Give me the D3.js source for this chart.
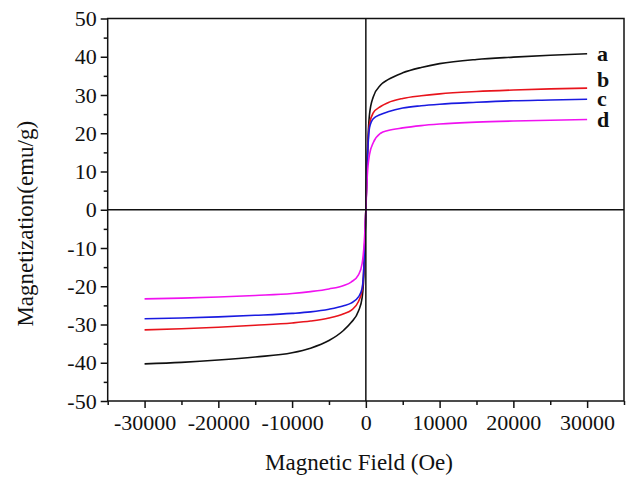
<!DOCTYPE html>
<html>
<head>
<meta charset="utf-8">
<script src="https://cdn.jsdelivr.net/npm/d3@7"></script>
<style>
  html, body { margin: 0; padding: 0; background: #fff; }
  svg { display: block; }
  text { font-family: "Liberation Serif", "Times New Roman", serif; fill: #111; }
</style>
</head>
<body>
<svg id="chart" width="627" height="477"></svg>
<script>
// Applied field (Oe)
const field = [-30000, -25000, -20000, -15000, -10000, -7500, -5000, -3000, -2000, -1000, -500, -200, 0,
               200, 500, 1000, 2000, 3000, 5000, 7500, 10000, 15000, 20000, 25000, 30000];

// Magnetization (emu/g) for each sample
const sampleA = [-40.3, -39.9, -39.3, -38.5, -37.4, -36.2, -34.2, -31.5, -29.5, -26.5, -23, -14, 0,
                 14, 25, 29.5, 32.6, 34.0, 35.8, 37.2, 38.2, 39.3, 39.9, 40.4, 40.8];
const sampleB = [-31.4, -31.1, -30.7, -30.2, -29.6, -29.1, -28.3, -27.2, -26.3, -24, -21, -12, 0,
                 13, 22.5, 25.3, 27, 28, 29.1, 29.8, 30.3, 30.9, 31.3, 31.6, 31.8];
const sampleC = [-28.5, -28.3, -28.0, -27.6, -27.1, -26.7, -26.0, -25.1, -24.4, -22.8, -20.5, -12, 0,
                 12.5, 21.5, 23.8, 24.9, 25.6, 26.6, 27.2, 27.6, 28.1, 28.5, 28.7, 28.9];
const sampleD = [-23.3, -23.1, -22.8, -22.4, -21.9, -21.4, -20.7, -19.8, -18.9, -17, -14, -8, 0,
                 9, 14.5, 17.5, 20, 20.7, 21.4, 22, 22.4, 22.9, 23.2, 23.4, 23.6];

const seriesNames = ["a", "b", "c", "d"];
const seriesColors = ["#111111", "#e8141c", "#1a1ae0", "#f012f0"];
const seriesValues = [sampleA, sampleB, sampleC, sampleD];

const xTicks = [-30000, -20000, -10000, 0, 10000, 20000, 30000];
const yTicks = [-50, -40, -30, -20, -10, 0, 10, 20, 30, 40, 50];

const svg = d3.select("#chart");
const plotL = 107.7, plotR = 624, plotT = 18.5, plotB = 401;

const x = d3.scaleLinear().domain([-35000, 35000]).range([plotL, plotR]);
const y = d3.scaleLinear().domain([-50, 50]).range([plotB, plotT]);

// Plain hyphen-minus labels
const plain = d => String(d);

// Curves
const line = d3.line().x(d => x(d[0])).y(d => y(d[1])).curve(d3.curveMonotoneX);
seriesValues.forEach((vals, i) => {
  svg.append("path")
    .datum(field.map((h, k) => [h, vals[k]]))
    .attr("fill", "none")
    .attr("stroke", seriesColors[i])
    .attr("stroke-width", 1.6)
    .attr("d", line);
});

// Zero lines through the origin
svg.append("line").attr("x1", plotL).attr("x2", plotR).attr("y1", y(0)).attr("y2", y(0))
  .attr("stroke", "#111").attr("stroke-width", 1.5);
svg.append("line").attr("x1", x(0)).attr("x2", x(0)).attr("y1", plotT).attr("y2", plotB)
  .attr("stroke", "#111").attr("stroke-width", 1.5);

// Frame
svg.append("rect").attr("x", plotL).attr("y", plotT).attr("width", plotR - plotL).attr("height", plotB - plotT)
  .attr("fill", "none").attr("stroke", "#111").attr("stroke-width", 1.5);

// Minor ticks
const xMinor = d3.range(-35000, 35001, 5000).filter(v => !xTicks.includes(v));
const yMinor = d3.range(-45, 50, 10);
svg.append("g").attr("transform", `translate(0,${plotB})`)
  .call(d3.axisBottom(x).tickValues(xMinor).tickSize(4).tickFormat(""))
  .call(g => g.select(".domain").remove())
  .selectAll("line").attr("stroke", "#111").attr("stroke-width", 1.5);
svg.append("g").attr("transform", `translate(${plotL},0)`)
  .call(d3.axisLeft(y).tickValues(yMinor).tickSize(4).tickFormat(""))
  .call(g => g.select(".domain").remove())
  .selectAll("line").attr("stroke", "#111").attr("stroke-width", 1.5);

// Major ticks and labels
const xAxis = svg.append("g").attr("transform", `translate(0,${plotB})`)
  .call(d3.axisBottom(x).tickValues(xTicks).tickSize(7).tickPadding(6).tickFormat(plain))
  .call(g => g.select(".domain").remove());
xAxis.selectAll("line").attr("stroke", "#111").attr("stroke-width", 1.5);
xAxis.selectAll("text").attr("font-size", 22).attr("fill", "#111");

const yAxis = svg.append("g").attr("transform", `translate(${plotL},0)`)
  .call(d3.axisLeft(y).tickValues(yTicks).tickSize(7).tickPadding(4).tickFormat(plain))
  .call(g => g.select(".domain").remove());
yAxis.selectAll("line").attr("stroke", "#111").attr("stroke-width", 1.5);
yAxis.selectAll("text").attr("font-size", 22).attr("fill", "#111");

// Axis titles
svg.append("text").attr("x", 359).attr("y", 470)
  .attr("text-anchor", "middle").attr("font-size", 23).text("Magnetic Field (Oe)");
svg.append("text").attr("transform", `translate(33,${(plotT + plotB) / 2 + 14}) rotate(-90)`)
  .attr("text-anchor", "middle").attr("font-size", 23).text("Magnetization(emu/g)");

// Series labels at the right end of each curve
const labelY = [61, 87, 106, 127];
seriesNames.forEach((n, i) => {
  svg.append("text").attr("x", 597).attr("y", labelY[i])
    .attr("font-size", 22).attr("font-weight", "bold").text(n);
});
</script>
</body>
</html>
